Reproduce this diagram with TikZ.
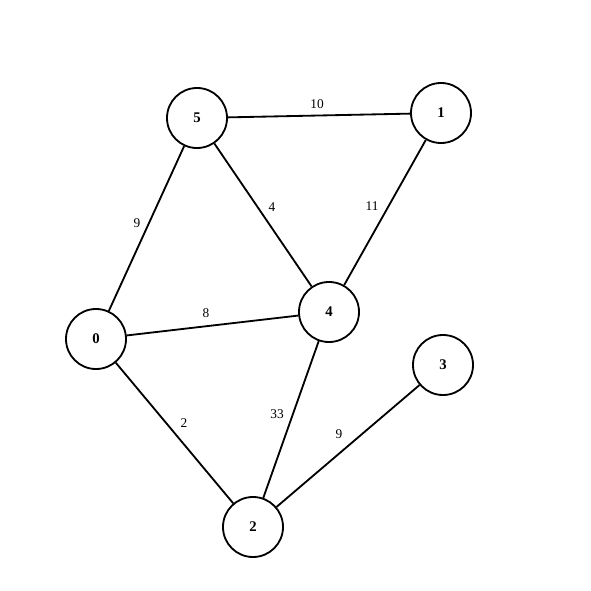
\documentclass[tikz,border=0pt]{standalone}
\usepackage{fontspec}
\setmainfont{Liberation Serif}
\usetikzlibrary{positioning}

\begin{document}
\begin{tikzpicture}[x=0.025cm, y=-0.025cm, line width=1.3pt,
    vertex/.style={circle, draw=black, fill=white, minimum size=1.5cm, inner sep=0pt, font=\fontsize{10.5}{12}\selectfont\bfseries},
    wlabel/.style={font=\fontsize{9.5}{11}\selectfont, inner sep=1pt}]
      \useasboundingbox (0,0) rectangle (591,591);

      % vertices
      \node[vertex] (n5) at (197, 118) {5};
      \node[vertex] (n1) at (441, 113) {1};
      \node[vertex] (n0) at (96, 339) {0};
      \node[vertex] (n4) at (329, 312) {4};
      \node[vertex] (n3) at (443, 365) {3};
      \node[vertex] (n2) at (253, 527) {2};

      % weighted edges
      \draw (n5) -- (n1);
      \draw (n5) -- (n0);
      \draw (n5) -- (n4);
      \draw (n1) -- (n4);
      \draw (n0) -- (n4);
      \draw (n0) -- (n2);
      \draw (n4) -- (n2);
      \draw (n3) -- (n2);

      \foreach \x/\y/\w/\lbl in {317/104/10/w51, 137/223/9/w50, 272/207/4/w54, 372/206/11/w14,
                                 206/313/8/w04, 184/423/2/w02, 277/414/33/w42, 339/434/9/w32} {
        \node[wlabel] (\lbl) at (\x, \y) {\w};
      }
    \end{tikzpicture}
\end{document}
